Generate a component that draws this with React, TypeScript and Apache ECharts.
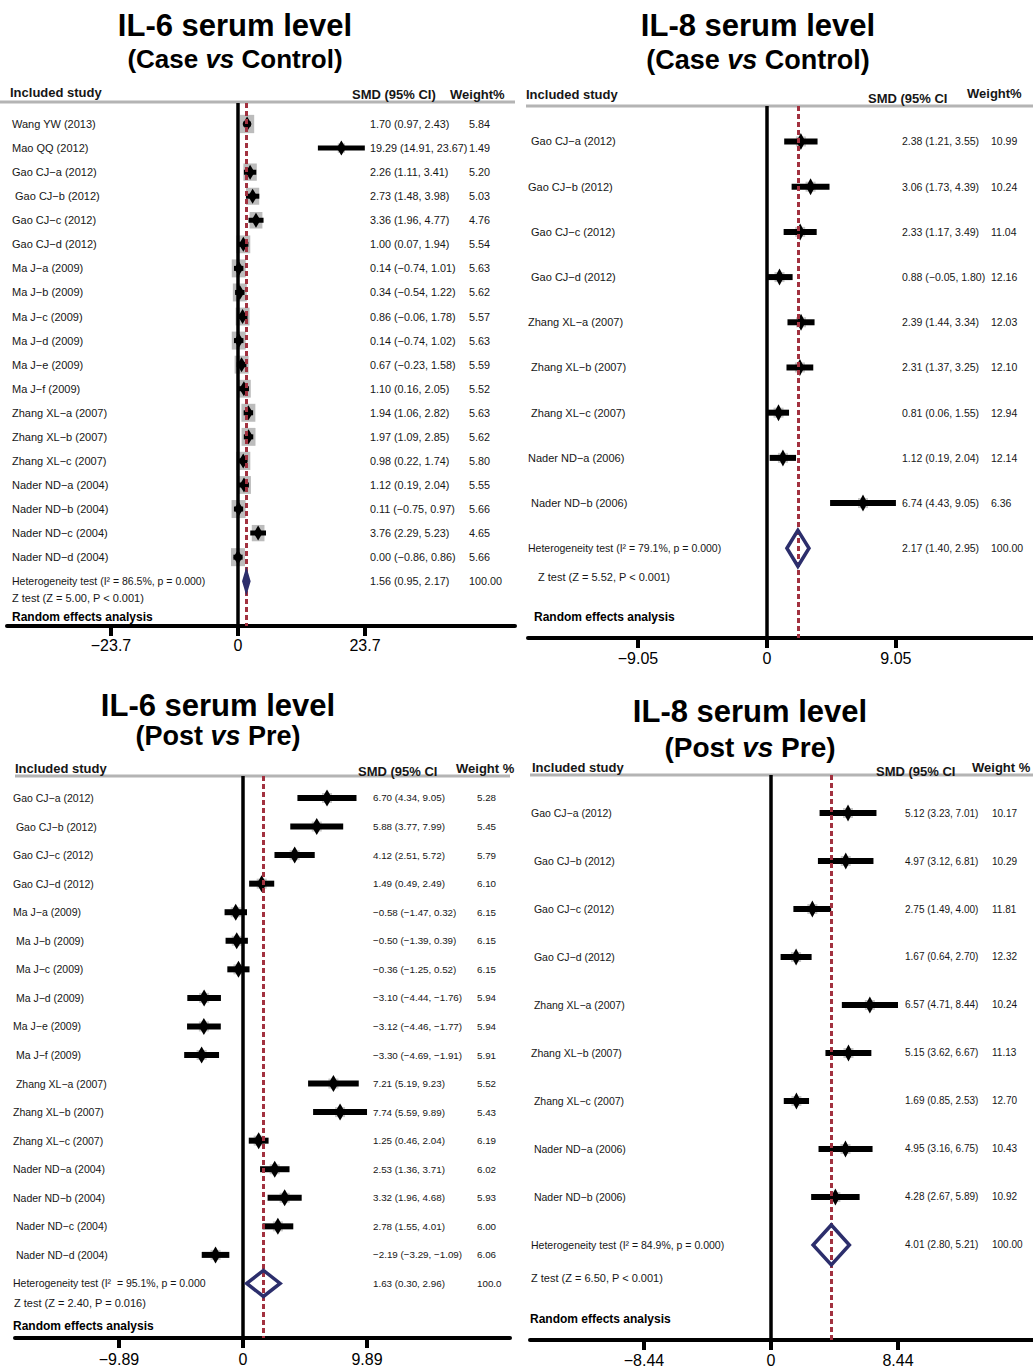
import React, { useEffect, useRef } from "react";
import * as echarts from "echarts";

// ---------------- IL-6 serum level (Case vs Control) ----------------
const il6CaseStudies = ["Wang YW (2013)", "Mao QQ (2012)", "Gao CJ−a (2012)", " Gao CJ−b (2012)", "Gao CJ−c (2012)", "Gao CJ−d (2012)", "Ma J−a (2009)", "Ma J−b (2009)", "Ma J−c (2009)", "Ma J−d (2009)", "Ma J−e (2009)", "Ma J−f (2009)", "Zhang XL−a (2007)", "Zhang XL−b (2007)", "Zhang XL−c (2007)", "Nader ND−a (2004)", "Nader ND−b (2004)", "Nader ND−c (2004)", "Nader ND−d (2004)"];
const il6CaseSmd = [1.70, 19.29, 2.26, 2.73, 3.36, 1.00, 0.14, 0.34, 0.86, 0.14, 0.67, 1.10, 1.94, 1.97, 0.98, 1.12, 0.11, 3.76, 0.00];
const il6CaseLower = [0.97, 14.91, 1.11, 1.48, 1.96, 0.07, -0.74, -0.54, -0.06, -0.74, -0.23, 0.16, 1.06, 1.09, 0.22, 0.19, -0.75, 2.29, -0.86];
const il6CaseUpper = [2.43, 23.67, 3.41, 3.98, 4.77, 1.94, 1.01, 1.22, 1.78, 1.02, 1.58, 2.05, 2.82, 2.85, 1.74, 2.04, 0.97, 5.23, 0.86];
const il6CaseWeights = ["5.84", "1.49", "5.20", "5.03", "4.76", "5.54", "5.63", "5.62", "5.57", "5.63", "5.59", "5.52", "5.63", "5.62", "5.80", "5.55", "5.66", "4.65", "5.66"];
const il6CasePooled = [1.56, 0.95, 2.17];
const il6CasePooledWeight = "100.00";
const il6CaseHet = "Heterogeneity test (I² = 86.5%, p = 0.000)";
const il6CaseZ = "Z test (Z = 5.00, P < 0.001)";
const il6CaseTicks = [-23.7, 0, 23.7];

// ---------------- IL-8 serum level (Case vs Control) ----------------
const il8CaseStudies = [" Gao CJ−a (2012)", "Gao CJ−b (2012)", " Gao CJ−c (2012)", " Gao CJ−d (2012)", "Zhang XL−a (2007)", " Zhang XL−b (2007)", " Zhang XL−c (2007)", "Nader ND−a (2006)", " Nader ND−b (2006)"];
const il8CaseSmd = [2.38, 3.06, 2.33, 0.88, 2.39, 2.31, 0.81, 1.12, 6.74];
const il8CaseLower = [1.21, 1.73, 1.17, -0.05, 1.44, 1.37, 0.06, 0.19, 4.43];
const il8CaseUpper = [3.55, 4.39, 3.49, 1.80, 3.34, 3.25, 1.55, 2.04, 9.05];
const il8CaseWeights = ["10.99", "10.24", "11.04", "12.16", "12.03", "12.10", "12.94", "12.14", "6.36"];
const il8CasePooled = [2.17, 1.40, 2.95];
const il8CasePooledWeight = "100.00";
const il8CaseHet = "Heterogeneity test (I² = 79.1%, p = 0.000)";
const il8CaseZ = "Z test (Z = 5.52, P < 0.001)";
const il8CaseTicks = [-9.05, 0, 9.05];

// ---------------- IL-6 serum level (Post vs Pre) ----------------
const il6PostStudies = ["Gao CJ−a (2012)", " Gao CJ−b (2012)", "Gao CJ−c (2012)", "Gao CJ−d (2012)", "Ma J−a (2009)", " Ma J−b (2009)", " Ma J−c (2009)", " Ma J−d (2009)", "Ma J−e (2009)", " Ma J−f (2009)", " Zhang XL−a (2007)", "Zhang XL−b (2007)", "Zhang XL−c (2007)", "Nader ND−a (2004)", "Nader ND−b (2004)", " Nader ND−c (2004)", " Nader ND−d (2004)"];
const il6PostSmd = [6.70, 5.88, 4.12, 1.49, -0.58, -0.50, -0.36, -3.10, -3.12, -3.30, 7.21, 7.74, 1.25, 2.53, 3.32, 2.78, -2.19];
const il6PostLower = [4.34, 3.77, 2.51, 0.49, -1.47, -1.39, -1.25, -4.44, -4.46, -4.69, 5.19, 5.59, 0.46, 1.36, 1.96, 1.55, -3.29];
const il6PostUpper = [9.05, 7.99, 5.72, 2.49, 0.32, 0.39, 0.52, -1.76, -1.77, -1.91, 9.23, 9.89, 2.04, 3.71, 4.68, 4.01, -1.09];
const il6PostWeights = ["5.28", "5.45", "5.79", "6.10", "6.15", "6.15", "6.15", "5.94", "5.94", "5.91", "5.52", "5.43", "6.19", "6.02", "5.93", "6.00", "6.06"];
const il6PostPooled = [1.63, 0.30, 2.96];
const il6PostPooledWeight = "100.0";
const il6PostHet = "Heterogeneity test (I²  = 95.1%, p = 0.000";
const il6PostZ = "Z test (Z = 2.40, P = 0.016)";
const il6PostTicks = [-9.89, 0, 9.89];

// ---------------- IL-8 serum level (Post vs Pre) ----------------
const il8PostStudies = ["Gao CJ−a (2012)", " Gao CJ−b (2012)", " Gao CJ−c (2012)", " Gao CJ−d (2012)", " Zhang XL−a (2007)", "Zhang XL−b (2007)", " Zhang XL−c (2007)", " Nader ND−a (2006)", " Nader ND−b (2006)"];
const il8PostSmd = [5.12, 4.97, 2.75, 1.67, 6.57, 5.15, 1.69, 4.95, 4.28];
const il8PostLower = [3.23, 3.12, 1.49, 0.64, 4.71, 3.62, 0.85, 3.16, 2.67];
const il8PostUpper = [7.01, 6.81, 4.00, 2.70, 8.44, 6.67, 2.53, 6.75, 5.89];
const il8PostWeights = ["10.17", "10.29", "11.81", "12.32", "10.24", "11.13", "12.70", "10.43", "10.92"];
const il8PostPooled = [4.01, 2.80, 5.21];
const il8PostPooledWeight = "100.00";
const il8PostHet = "Heterogeneity test (I² = 84.9%, p = 0.000)";
const il8PostZ = "Z test (Z = 6.50, P < 0.001)";
const il8PostTicks = [-8.44, 0, 8.44];

// ---------------- styling ----------------
const FONT = "'Liberation Sans', Arial, Helvetica, sans-serif";
const NAVY = "#2c2e6c";
const RED = "#a2313f";
const TEXT = "#161616";

const panels: any[] = [
  {
    title1: "IL-6 serum level", title2: "(Case {i|vs} Control)",
    studies: il6CaseStudies, smd: il6CaseSmd, lower: il6CaseLower, upper: il6CaseUpper, weights: il6CaseWeights,
    pooled: il6CasePooled, pooledWeight: il6CasePooledWeight, het: il6CaseHet, z: il6CaseZ, ticks: il6CaseTicks,
    smdHeader: "SMD (95% CI)", weightHeader: "Weight%",
    L: {
      left: 7, right: 515, top: 103, bottom: 626, xMin: -43.1, xMax: 51.69, yMin: -0.873, yMax: 20.86,
      titleX: 235, t1Y: 25, t2Y: 59, t1Size: 31, t2Size: 26,
      hdrX: 10, hdrY: 92, smdHdrX: 352, smdHdrY: 94, wHdrX: 450, wHdrY: 94, lineY: 102, lineX1: 0, lineX2: 515,
      labelX: 12, labelSize: 11, smdX: 370, wX: 469, numSize: 10.8, hetSize: 10.5,
      zX: 12, zY: 598, reX: 12, reY: 617,
      box: { w: 14, h: 18, ref: 5.66, color: "#bcbcbc", scale: true },
      lineW: 5, dW: 9, dH: 15, poolH: 22, poolFill: true, poolStroke: 2,
      axisSize: 16, labelMargin: 11,
    },
  },
  {
    title1: "IL-8 serum level", title2: "(Case {i|vs} Control)",
    studies: il8CaseStudies, smd: il8CaseSmd, lower: il8CaseLower, upper: il8CaseUpper, weights: il8CaseWeights,
    pooled: il8CasePooled, pooledWeight: il8CasePooledWeight, het: il8CaseHet, z: il8CaseZ, ticks: il8CaseTicks,
    smdHeader: "SMD (95% CI", weightHeader: "Weight%",
    L: {
      left: 528, right: 1033, top: 106, bottom: 638, xMin: -16.77, xMax: 18.67, yMin: -0.785, yMax: 10.985,
      titleX: 758, t1Y: 25, t2Y: 60, t1Size: 31, t2Size: 27,
      hdrX: 526, hdrY: 94, smdHdrX: 868, smdHdrY: 98, wHdrX: 967, wHdrY: 93, lineY: 106, lineX1: 526, lineX2: 1033,
      labelX: 528, labelSize: 11, smdX: 902, wX: 991, numSize: 10.5, hetSize: 10.5,
      zX: 538, zY: 577, reX: 534, reY: 617,
      box: { w: 10, h: 10, ref: 1, color: "#c8c8c8", scale: false },
      lineW: 6, dW: 9, dH: 17, poolH: 36, poolFill: false, poolStroke: 3.5,
      axisSize: 16, labelMargin: 12,
    },
  },
  {
    title1: "IL-6 serum level", title2: "(Post {i|vs} Pre)",
    studies: il6PostStudies, smd: il6PostSmd, lower: il6PostLower, upper: il6PostUpper, weights: il6PostWeights,
    pooled: il6PostPooled, pooledWeight: il6PostPooledWeight, het: il6PostHet, z: il6PostZ, ticks: il6PostTicks,
    smdHeader: "SMD (95% CI", weightHeader: "Weight %",
    L: {
      left: 15, right: 510, top: 776, bottom: 1338, xMin: -18.18, xMax: 21.29, yMin: -0.77, yMax: 18.91,
      titleX: 218, t1Y: 705, t2Y: 736, t1Size: 31, t2Size: 27,
      hdrX: 15, hdrY: 768, smdHdrX: 358, smdHdrY: 771, wHdrX: 456, wHdrY: 768, lineY: 776, lineX1: 15, lineX2: 510,
      labelX: 13, labelSize: 10.5, smdX: 373, wX: 477, numSize: 9.8, hetSize: 10.5,
      zX: 14, zY: 1303, reX: 13, reY: 1326,
      box: { w: 10, h: 10, ref: 1, color: "#c8c8c8", scale: false },
      lineW: 6, dW: 10, dH: 17, poolH: 26, poolFill: false, poolStroke: 3.5,
      axisSize: 16, labelMargin: 13,
    },
  },
  {
    title1: "IL-8 serum level", title2: "(Post {i|vs} Pre)",
    studies: il8PostStudies, smd: il8PostSmd, lower: il8PostLower, upper: il8PostUpper, weights: il8PostWeights,
    pooled: il8PostPooled, pooledWeight: il8PostPooledWeight, het: il8PostHet, z: il8PostZ, ticks: il8PostTicks,
    smdHeader: "SMD (95% CI", weightHeader: "Weight %",
    L: {
      left: 530, right: 1033, top: 775, bottom: 1340, xMin: -16.01, xMax: 17.41, yMin: -0.792, yMax: 10.98,
      titleX: 750, t1Y: 711, t2Y: 747, t1Size: 31, t2Size: 28,
      hdrX: 532, hdrY: 767, smdHdrX: 876, smdHdrY: 771, wHdrX: 972, wHdrY: 767, lineY: 775, lineX1: 530, lineX2: 1033,
      labelX: 531, labelSize: 10.5, smdX: 905, wX: 992, numSize: 10, hetSize: 10.5,
      zX: 531, zY: 1278, reX: 530, reY: 1319,
      box: { w: 10, h: 10, ref: 1, color: "#c8c8c8", scale: false },
      lineW: 6, dW: 9, dH: 17, poolH: 40, poolFill: false, poolStroke: 3.5,
      axisSize: 16, labelMargin: 12,
    },
  },
];

function num(n: number) {
  return n < 0 ? "−" + Math.abs(n).toFixed(2) : n.toFixed(2);
}
function ciText(e: number, lo: number, hi: number) {
  return `${num(e)} (${num(lo)}, ${num(hi)})`;
}
function tickText(v: number) {
  return v < 0 ? "−" + Math.abs(v) : String(v);
}

function textEl(x: number, y: number, text: string, size: number, o: any = {}) {
  const align = o.align || "left";
  return {
    type: "text",
    x,
    y,
    silent: true,
    z: 10,
    style: {
      text,
      fill: o.fill || TEXT,
      fontSize: size,
      fontWeight: o.bold ? "bold" : "normal",
      fontFamily: FONT,
      align,
      verticalAlign: "middle",
      textAlign: align,
      textVerticalAlign: "middle",
      ...(o.rich ? { rich: o.rich } : {}),
    },
  };
}

function studyRenderer(p: any) {
  const L = p.L;
  return (params: any, api: any) => {
    const i = api.value(4);
    const row = api.value(1);
    const c = api.coord([api.value(0), row]);
    const a = api.coord([api.value(2), row]);
    const b = api.coord([api.value(3), row]);
    const y = c[1];
    const children: any[] = [];
    const f = L.box.scale ? Math.sqrt(parseFloat(p.weights[i]) / L.box.ref) : 1;
    const bw = L.box.w * f;
    const bh = L.box.h * f;
    children.push({ type: "rect", shape: { x: c[0] - bw / 2, y: y - bh / 2, width: bw, height: bh }, style: { fill: L.box.color } });
    children.push({ type: "rect", shape: { x: a[0], y: y - L.lineW / 2, width: b[0] - a[0], height: L.lineW }, style: { fill: "#000" } });
    children.push({
      type: "polygon",
      shape: { points: [[c[0] - L.dW / 2, y], [c[0], y - L.dH / 2], [c[0] + L.dW / 2, y], [c[0], y + L.dH / 2]] },
      style: { fill: "#000" },
    });
    children.push(textEl(L.labelX, y, p.studies[i], L.labelSize));
    children.push(textEl(L.smdX, y, ciText(api.value(0), api.value(2), api.value(3)), L.numSize));
    children.push(textEl(L.wX, y, p.weights[i], L.numSize));
    return { type: "group", children };
  };
}

function pooledRenderer(p: any) {
  const L = p.L;
  return (params: any, api: any) => {
    const row = api.value(1);
    const c = api.coord([api.value(0), row]);
    const a = api.coord([api.value(2), row]);
    const b = api.coord([api.value(3), row]);
    const y = c[1];
    const H = L.poolH;
    return {
      type: "group",
      children: [
        {
          type: "polygon",
          shape: { points: [[a[0], y], [c[0], y - H / 2], [b[0], y], [c[0], y + H / 2]] },
          style: { fill: L.poolFill ? NAVY : "none", stroke: NAVY, lineWidth: L.poolStroke, lineJoin: "miter" },
        },
        textEl(L.labelX, y, p.het, L.hetSize),
        textEl(L.smdX, y, ciText(api.value(0), api.value(2), api.value(3)), L.numSize),
        textEl(L.wX, y, p.pooledWeight, L.numSize),
      ],
    };
  };
}

function panelGraphics(p: any) {
  const L = p.L;
  return [
    textEl(L.titleX, L.t1Y, p.title1, L.t1Size, { bold: true, align: "center", fill: "#000" }),
    textEl(L.titleX, L.t2Y, p.title2, L.t2Size, {
      bold: true,
      align: "center",
      fill: "#000",
      rich: { i: { fontStyle: "italic", fontWeight: "bold", fontSize: L.t2Size, fontFamily: FONT, fill: "#000" } },
    }),
    textEl(L.hdrX, L.hdrY, "Included study", 13, { bold: true }),
    textEl(L.smdHdrX, L.smdHdrY, p.smdHeader, 13, { bold: true }),
    textEl(L.wHdrX, L.wHdrY, p.weightHeader, 13, { bold: true }),
    {
      type: "line",
      silent: true,
      z: 1,
      shape: { x1: L.lineX1, y1: L.lineY, x2: L.lineX2, y2: L.lineY },
      style: { stroke: "#b4b4b4", lineWidth: 3 },
    },
    textEl(L.zX, L.zY, p.z, 11),
    textEl(L.reX, L.reY, "Random effects analysis", 12, { bold: true, fill: "#000" }),
  ];
}

function buildOption() {
  const series: any[] = [];
  panels.forEach((p, k) => {
    series.push({
      type: "custom",
      xAxisIndex: k,
      yAxisIndex: k,
      clip: false,
      silent: true,
      encode: { x: [0, 2, 3], y: 1 },
      data: p.smd.map((v: number, i: number) => [v, i, p.lower[i], p.upper[i], i]),
      renderItem: studyRenderer(p),
      markLine: {
        silent: true,
        symbol: ["none", "none"],
        label: { show: false },
        emphasis: { disabled: true },
        data: [
          { xAxis: 0, lineStyle: { color: "#000", width: 3.5, type: "solid" } },
          { xAxis: p.pooled[0], lineStyle: { color: RED, width: 3, type: [5, 3] } },
        ],
      },
    });
    series.push({
      type: "custom",
      xAxisIndex: k,
      yAxisIndex: k,
      clip: false,
      silent: true,
      z: 6,
      encode: { x: [0, 2, 3], y: 1 },
      data: [[p.pooled[0], p.studies.length, p.pooled[1], p.pooled[2]]],
      renderItem: pooledRenderer(p),
    });
  });

  return {
    animation: false,
    backgroundColor: "#ffffff",
    grid: panels.map((p) => ({
      left: p.L.left,
      top: p.L.top,
      width: p.L.right - p.L.left,
      height: p.L.bottom - p.L.top,
    })),
    xAxis: panels.map((p, k) => ({
      gridIndex: k,
      type: "value",
      min: p.L.xMin,
      max: p.L.xMax,
      splitLine: { show: false },
      axisLine: { show: true, onZero: false, lineStyle: { color: "#000", width: 4 } },
      axisTick: { show: true, customValues: p.ticks, length: 10, lineStyle: { color: "#000", width: 4 } },
      axisLabel: {
        show: true,
        customValues: p.ticks,
        formatter: (v: number) => tickText(v),
        fontSize: p.L.axisSize,
        color: "#000",
        fontFamily: FONT,
        margin: p.L.labelMargin,
      },
    })),
    yAxis: panels.map((p, k) => ({
      gridIndex: k,
      type: "value",
      min: p.L.yMin,
      max: p.L.yMax,
      inverse: true,
      show: false,
    })),
    series,
    graphic: { elements: panels.flatMap((p) => panelGraphics(p)) },
  };
}

export default function App() {
  const ref = useRef<HTMLDivElement>(null);
  useEffect(() => {
    if (!ref.current) return;
    const chart = echarts.init(ref.current, null, { renderer: "svg" });
    chart.setOption(buildOption() as any);
    return () => chart.dispose();
  }, []);
  return (
    <div
      ref={ref}
      style={{ position: "absolute", left: 0, top: 0, width: 1033, height: 1370, background: "#fff" }}
    />
  );
}
